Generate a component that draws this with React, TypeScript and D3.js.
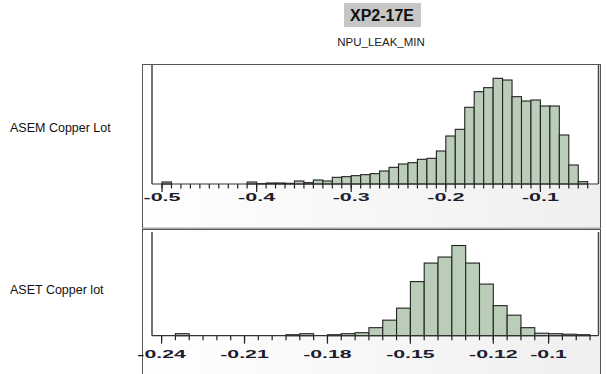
import { useEffect, useRef } from 'react';
import * as d3 from 'd3';

// ASEM lot: bins of 0.01 starting at -0.50
const asemBinStart = -0.5;
const asemBinWidth = 0.01;
const asemCounts = [
  6, 0, 0, 0, 0, 0, 0, 0, 0, 6, 1, 3, 3, 2, 9, 4, 12, 9, 20, 22, 25, 28, 31,
  39, 50, 60, 64, 74, 77, 99, 144, 164, 230, 277, 289, 317, 312, 262, 249, 252,
  234, 234, 147, 57, 7,
];
const asemTicks = [-0.5, -0.4, -0.3, -0.2, -0.1];

// ASET lot: bins of 0.005 starting at -0.24
const asetBinStart = -0.24;
const asetBinWidth = 0.005;
const asetCounts = [
  0, 4, 0, 0, 0, 0, 0, 0, 0, 2, 4, 0, 2, 4, 6, 16, 31, 55, 108, 145, 157, 180,
  145, 103, 60, 41, 16, 5, 4, 3, 2,
];
const asetTicks = [-0.24, -0.21, -0.18, -0.15, -0.12, -0.1];

const panelLabels = ['ASEM Copper Lot', 'ASET Copper lot'];
const title = 'XP2-17E';
const subtitle = 'NPU_LEAK_MIN';

export default function App() {
  const ref = useRef<SVGSVGElement>(null);

  useEffect(() => {
    const svg = d3.select(ref.current);
    svg.selectAll('*').remove();

    const defs = svg.append('defs');
    const grad = defs.append('linearGradient').attr('id', 'axbg').attr('x1', '0').attr('x2', '1').attr('y1', '0').attr('y2', '0');
    grad.append('stop').attr('offset', '0%').attr('stop-color', '#ffffff');
    grad.append('stop').attr('offset', '100%').attr('stop-color', '#efefef');

    // title
    svg.append('rect').attr('x', 344).attr('y', 3).attr('width', 77).attr('height', 24).attr('fill', '#c6c6c6');
    svg.append('text').attr('x', 382).attr('y', 21).attr('text-anchor', 'middle')
      .style('font-family', 'Liberation Sans, Arial, sans-serif').style('font-weight', 'bold').style('font-size', '16px')
      .attr('fill', '#111').text(title);
    svg.append('text').attr('x', 381).attr('y', 46).attr('text-anchor', 'middle')
      .style('font-family', 'Liberation Sans, Arial, sans-serif').style('font-size', '11.5px')
      .attr('fill', '#222').text(subtitle);

    const panels = [
      {
        label: panelLabels[0], labelY: 132,
        outer: [142.5, 64.5, 458, 163.5], top: 65, base: 184,
        domainX: [-0.5106, -0.0386], yMax: 357,
        start: asemBinStart, width: asemBinWidth, counts: asemCounts, ticks: asemTicks,
        fontSize: 10.5, stretch: 2.05, labelY2: 201,
      },
      {
        label: panelLabels[1], labelY: 294,
        outer: [142.5, 229.5, 458, 150], top: 232, base: 335.7,
        domainX: [-0.24347, -0.08195], yMax: 207,
        start: asetBinStart, width: asetBinWidth, counts: asetCounts, ticks: asetTicks,
        fontSize: 11.5, stretch: 1.85, labelY2: 358,
      },
    ];

    panels.forEach(p => {
      const x = d3.scaleLinear().domain(p.domainX).range([152, 598.5]);
      const y = d3.scaleLinear().domain([0, p.yMax]).range([p.base, p.top]);
      const [ox, oy, ow, oh] = p.outer;

      svg.append('text').attr('x', 10).attr('y', p.labelY)
        .style('font-family', 'Liberation Sans, Arial, sans-serif').style('font-size', '12.5px')
        .attr('fill', '#111').text(p.label);

      const g = svg.append('g');
      g.append('rect').attr('x', ox).attr('y', oy).attr('width', ow).attr('height', oh)
        .attr('fill', '#fff').attr('stroke', '#555').attr('stroke-width', 1);
      // axis area background
      g.append('rect').attr('x', 143).attr('y', p.base + 1).attr('width', 457).attr('height', oy + oh - p.base - 1.5)
        .attr('fill', 'url(#axbg)');

      const bins = p.counts.map((c, i) => ({ x0: p.start + i * p.width, x1: p.start + (i + 1) * p.width, c }));

      // minor ticks at every bin edge
      const edges = d3.range(p.counts.length + 1).map(i => p.start + i * p.width);
      g.selectAll('.minor').data(edges).enter().append('line')
        .attr('x1', d => x(d)).attr('x2', d => x(d))
        .attr('y1', p.base).attr('y2', p.base + 4.5)
        .attr('stroke', '#222').attr('stroke-width', 1.2);
      g.selectAll('.major').data(p.ticks).enter().append('line')
        .attr('x1', d => x(d)).attr('x2', d => x(d))
        .attr('y1', p.base).attr('y2', p.base + 8)
        .attr('stroke', '#222').attr('stroke-width', 1.2);

      g.selectAll('.bar').data(bins.filter(b => b.c > 0)).enter().append('rect')
        .attr('x', d => x(d.x0)).attr('y', d => y(d.c))
        .attr('width', d => x(d.x1) - x(d.x0)).attr('height', d => p.base - y(d.c))
        .attr('fill', '#b9cdb9').attr('stroke', '#222').attr('stroke-width', 1.1);

      // baseline, left axis and right frame
      g.append('line').attr('x1', 152).attr('x2', 598.5).attr('y1', p.base).attr('y2', p.base)
        .attr('stroke', '#333').attr('stroke-width', 1.2);
      g.append('line').attr('x1', 152).attr('x2', 152).attr('y1', p.top).attr('y2', p.base)
        .attr('stroke', '#444').attr('stroke-width', 1.5);
      g.append('line').attr('x1', 598.5).attr('x2', 598.5).attr('y1', p.top).attr('y2', p.base)
        .attr('stroke', '#444').attr('stroke-width', 1.5);

      g.selectAll('.tl').data(p.ticks).enter().append('text')
        .attr('transform', d => `translate(${x(d)},${p.labelY2}) scale(${p.stretch},1)`)
        .attr('text-anchor', 'middle')
        .style('font-family', 'Liberation Sans, Arial, sans-serif').style('font-size', `${p.fontSize}px`)
        .style('font-weight', 'bold')
        .attr('fill', '#1c1c30').text(d => String(d));
    });
  }, []);

  return (
    <div style={{ position: 'absolute', left: 0, top: 0 }}>
      <svg ref={ref} width={607} height={374} style={{ display: 'block', background: '#fff' }}></svg>
    </div>
  );
}
